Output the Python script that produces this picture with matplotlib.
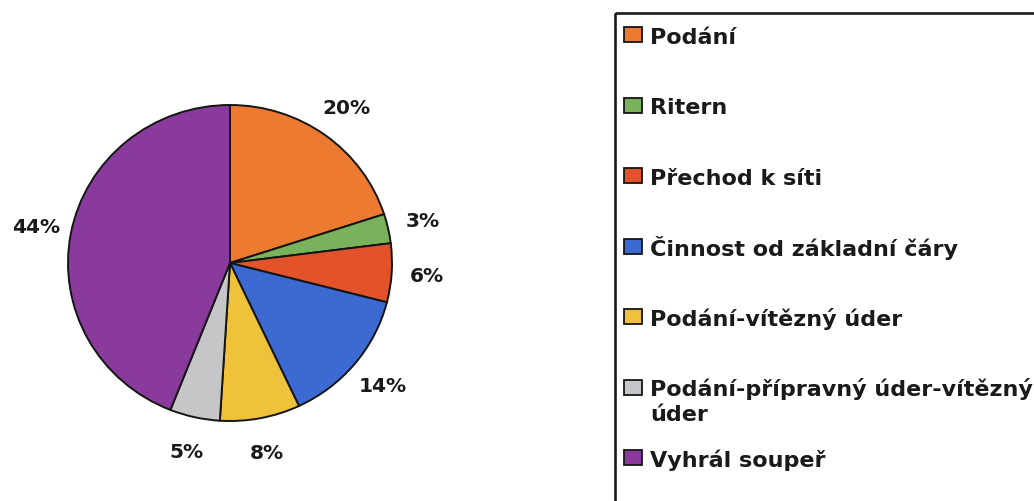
import matplotlib
matplotlib.use("Agg")
import matplotlib.pyplot as plt
from matplotlib.patches import Rectangle

categories = ["Podání", "Ritern", "Přechod k síti", "Činnost od základní čáry",
              "Podání-vítězný úder", "Podání-přípravný úder-vítězný\núder", "Vyhrál soupeř"]
values = [20, 3, 6, 14, 8, 5, 44]
colors = ["#EC7A30", "#78B25A", "#E2532B", "#3C6AD2", "#F0C23C", "#C6C6C8", "#8A3A9C"]

W, H = 1034, 502
fig = plt.figure(figsize=(W / 100, H / 100), dpi=100)
fig.patch.set_facecolor("white")

# Pie axes: unit radius ~162 px horizontally, ~158 px vertically, centre at (230, 264) px
ax = fig.add_axes([0, 0, 1, 1])
cx, cy = 230, H - 264
rx, ry = 162, 158
wedges, texts, autotexts = ax.pie(
    values, colors=colors, startangle=90, counterclock=False,
    autopct="%.0f%%", pctdistance=1.22,
    wedgeprops=dict(edgecolor="#151515", linewidth=1.4),
    textprops=dict(fontsize=14.5, fontweight="bold", color="#1a1a1a", family="DejaVu Sans"),
)
ax.set_aspect("auto")
ax.set_xlim(-cx / rx, (W - cx) / rx)
ax.set_ylim(-cy / ry, (H - cy) / ry)
ax.axis("off")

# Legend drawn in pixel coordinates
lax = fig.add_axes([0, 0, 1, 1])
lax.set_xlim(0, W)
lax.set_ylim(H, 0)
lax.axis("off")
lax.add_patch(Rectangle((615, 14), 600, 600, fill=False, edgecolor="#1a1a1a", linewidth=1.9))
for i, (cat, col) in enumerate(zip(categories, colors)):
    base = 44 + 70.5 * i
    lax.add_patch(Rectangle((624, base - 16), 18, 15, facecolor=col, edgecolor="#151515", linewidth=1.3))
    for k, line in enumerate(cat.split("\n")):
        lax.text(650, base + 25 * k, line, fontsize=16, fontweight="bold", color="#1a1a1a",
                 family="DejaVu Sans", ha="left", va="baseline")

fig.savefig("out.png", dpi=100, facecolor="white")
